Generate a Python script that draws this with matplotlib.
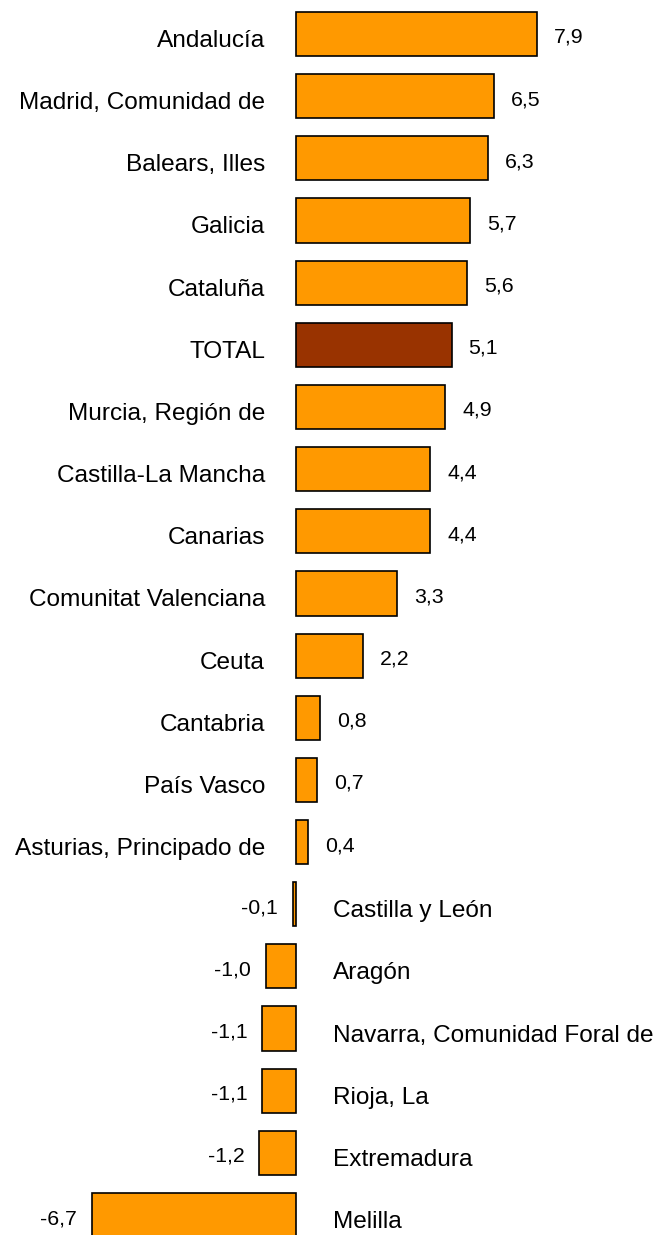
import matplotlib
matplotlib.use('Agg')
import matplotlib.pyplot as plt

regions = ['Andalucía', 'Madrid, Comunidad de', 'Balears, Illes', 'Galicia', 'Cataluña',
           'TOTAL', 'Murcia, Región de', 'Castilla-La Mancha', 'Canarias',
           'Comunitat Valenciana', 'Ceuta', 'Cantabria', 'País Vasco',
           'Asturias, Principado de', 'Castilla y León', 'Aragón',
           'Navarra, Comunidad Foral de', 'Rioja, La', 'Extremadura', 'Melilla']
values = [7.9, 6.5, 6.3, 5.7, 5.6, 5.1, 4.9, 4.4, 4.4, 3.3, 2.2, 0.8, 0.7, 0.4,
          -0.1, -1.0, -1.1, -1.1, -1.2, -6.7]

plt.rcParams['font.family'] = ['Liberation Sans', 'DejaVu Sans']

fig = plt.figure(figsize=(6.6, 12.35), dpi=100)
ax = fig.add_axes([0, 0, 1, 1])

colors = ['#993300' if r == 'TOTAL' else '#FF9900' for r in regions]
y = list(range(len(regions)))
ax.barh(y, values, height=0.71, color=colors, edgecolor='black', linewidth=1.2)

px = 30.5   # pixels per unit on x
py = 62.16  # pixels per row
for i, (name, v) in enumerate(zip(regions, values)):
    label = f'{v:.1f}'.replace('.', ',')
    if v >= 0:
        ax.text(v + 17 / px, i + 9 / py, label, ha='left', va='baseline', fontsize=15.3)
        ax.text(-31 / px, i + 13 / py, name, ha='right', va='baseline', fontsize=17.6)
    else:
        ax.text(v - 15 / px, i + 9 / py, label, ha='right', va='baseline', fontsize=15.3)
        ax.text(37 / px, i + 13 / py, name, ha='left', va='baseline', fontsize=17.6)

ax.set_xlim(-296 / px, (660 - 296) / px)
ax.set_ylim((1235 - 34) / py, -34 / py)
ax.axis('off')

fig.savefig('out.png', dpi=100, facecolor='white')
